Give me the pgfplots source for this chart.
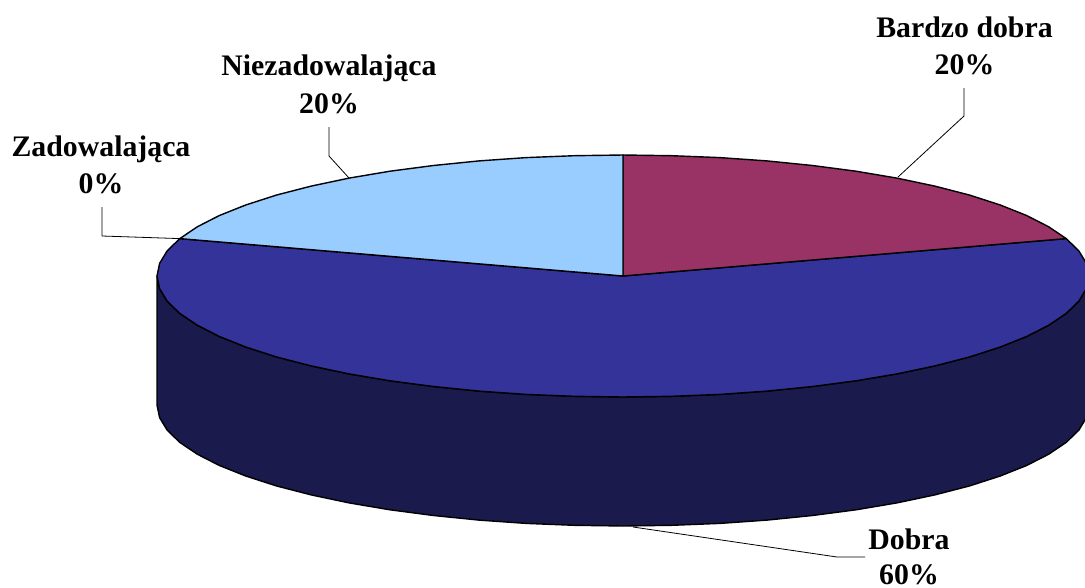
\documentclass[border=0pt]{standalone}
\usepackage{pgfplots}
\pgfplotsset{compat=1.18}
\usepackage{fontspec}
\setmainfont{Liberation Serif}
\definecolor{burg}{HTML}{993366}
\definecolor{blue3}{HTML}{333399}
\definecolor{lblue}{HTML}{99CCFF}
\definecolor{darkb}{HTML}{1A1A4D}
\tikzset{lab/.style={font=\fontsize{29.8}{36}\selectfont\bfseries, anchor=base, inner sep=0pt, text=black}}
\begin{document}
\begin{tikzpicture}
\path[use as bounding box] (0,0) rectangle (1085pt,587pt);
\begin{axis}[
  at={(0,0)}, anchor=south west,
  width=1085pt, height=587pt, scale only axis,
  xmin=0, xmax=1085, ymin=0, ymax=587, y dir=reverse,
  axis lines=none, clip=true,
  every axis plot/.append style={line join=round},
]
% side wall (Dobra, 60%)
\addplot[fill=darkb, draw=black, line width=1.4pt] coordinates {
(1089,276)(1086.4,288.6)(1078.8,301.2)(1066.2,313.4)(1048.7,325.2)(1026.6,336.5)(1000,347.1)(969.3,357)(934.8,365.9)(896.9,373.9)(856,380.8)(812.5,386.5)(767,391.1)(719.9,394.4)(671.7,396.3)(623,397)(574.3,396.3)(526.1,394.4)(479,391.1)(433.5,386.5)(390,380.8)(349.1,373.9)(311.2,365.9)(276.7,357)(246,347.1)(219.4,336.5)(197.3,325.2)(179.8,313.4)(167.2,301.2)(159.6,288.6)(157,276)
(157,405)(159.6,417.6)(167.2,430.2)(179.8,442.4)(197.3,454.2)(219.4,465.5)(246,476.1)(276.7,486)(311.2,494.9)(349.1,502.9)(390,509.8)(433.5,515.5)(479,520.1)(526.1,523.4)(574.3,525.3)(623,526)(671.7,525.3)(719.9,523.4)(767,520.1)(812.5,515.5)(856,509.8)(896.9,502.9)(934.8,494.9)(969.3,486)(1000,476.1)(1026.6,465.5)(1048.7,454.2)(1066.2,442.4)(1078.8,430.2)(1086.4,417.6)(1089,405)
} -- cycle;
% top: Dobra 60%
\addplot[fill=blue3, draw=black, line width=1.4pt] coordinates {
(623,276)(1066.2,238.6)(1078.8,250.8)(1086.4,263.4)(1089,276)(1086.4,288.6)(1078.8,301.2)(1066.2,313.4)(1048.7,325.2)(1026.6,336.5)(1000,347.1)(969.3,357)(934.8,365.9)(896.9,373.9)(856,380.8)(812.5,386.5)(767,391.1)(719.9,394.4)(671.7,396.3)(623,397)(574.3,396.3)(526.1,394.4)(479,391.1)(433.5,386.5)(390,380.8)(349.1,373.9)(311.2,365.9)(276.7,357)(246,347.1)(219.4,336.5)(197.3,325.2)(179.8,313.4)(167.2,301.2)(159.6,288.6)(157,276)(159.6,263.4)(167.2,250.8)(179.8,238.6)
} -- cycle;
% top: Bardzo dobra 20%
\addplot[fill=burg, draw=black, line width=1.4pt] coordinates {
(623,276)(623,155)(671.7,155.7)(719.9,157.6)(767,160.9)(812.5,165.5)(856,171.2)(896.9,178.1)(934.8,186.1)(969.3,195)(1000,204.9)(1026.6,215.5)(1048.7,226.8)(1066.2,238.6)
} -- cycle;
% top: Niezadowalajaca 20%
\addplot[fill=lblue, draw=black, line width=1.4pt] coordinates {
(623,276)(179.8,238.6)(197.3,226.8)(219.4,215.5)(246,204.9)(276.7,195)(311.2,186.1)(349.1,178.1)(390,171.2)(433.5,165.5)(479,160.9)(526.1,157.6)(574.3,155.7)(623,155)
} -- cycle;
% leader lines
\addplot[black, line width=0.8pt] coordinates {(964,88)(964,116)(898,177)};
\addplot[black, line width=0.8pt] coordinates {(329,127)(329,156)(349,178)};
\addplot[black, line width=0.8pt] coordinates {(102,207)(102,236)(180,238.6)};
\addplot[black, line width=0.8pt] coordinates {(865,557)(837,557)(633,527)};
% labels
\node[lab] at (axis cs:964.5,37) {Bardzo dobra};
\node[lab] at (axis cs:964.5,74) {20\%};
\node[lab] at (axis cs:329,75) {Niezadowalająca};
\node[lab] at (axis cs:329,113) {20\%};
\node[lab] at (axis cs:101,156) {Zadowalająca};
\node[lab] at (axis cs:101,193) {0\%};
\node[lab] at (axis cs:909,549) {Dobra};
\node[lab] at (axis cs:909,584.5) {60\%};
\end{axis}
\end{tikzpicture}
\end{document}
